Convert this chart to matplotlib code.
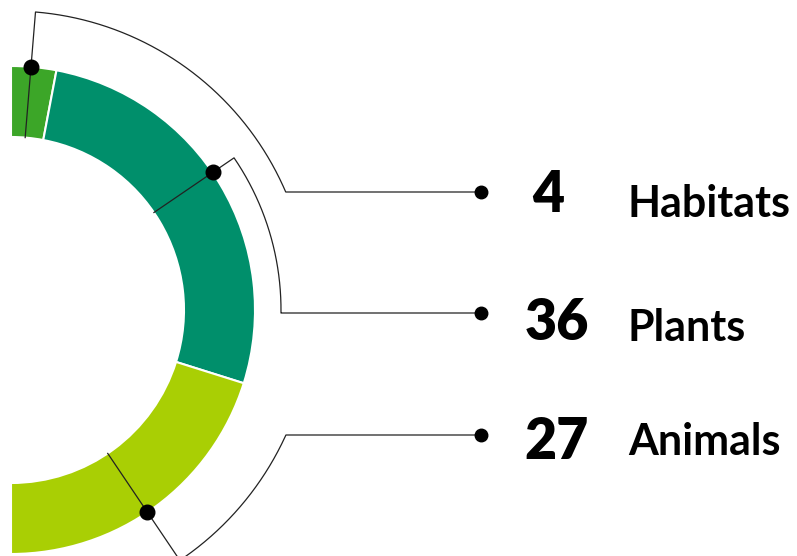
import numpy as np
import matplotlib
matplotlib.use("Agg")
import matplotlib.pyplot as plt

# data
labels = ["Habitats", "Plants", "Animals"]
counts = [4, 36, 27]
colors = ["#3ca628", "#008f6b", "#a9cf04"]

# layout (pixel-like units, y pointing up)
W, H = 797, 556
cx, cy = 11, 246
r_out, ring = 244, 71
leader_angles = [85.3, 34.3, -56.0]     # where each leader crosses the ring
leader_radius = [299, 270, 302]         # radius of each bracket arc
row_y = [364, 243, 121]                 # height of each horizontal leader
dot_x = 481
num_x = [548, 557, 557]
num_base = [344, 216, 97]
label_x = 628
label_base = [339, 215, 101]

plt.rcParams['font.family'] = ['Lato', 'DejaVu Sans']

fig = plt.figure(figsize=(W / 100, H / 100), dpi=100)
ax = fig.add_axes([0, 0, 1, 1])

# half donut: a hidden slice takes the left half
wedges, _ = ax.pie(counts + [sum(counts)], radius=r_out, center=(cx, cy),
                   startangle=90, counterclock=False,
                   colors=colors + ["white"],
                   wedgeprops=dict(width=ring, edgecolor="white", linewidth=1.5))
wedges[-1].set_visible(False)

r_in = r_out - ring
for i, lab in enumerate(labels):
    a = np.radians(leader_angles[i])
    rb, yl = leader_radius[i], row_y[i]
    a_end = np.arcsin((yl - cy) / rb)
    arc = np.linspace(a, a_end, 200)
    xs = np.concatenate([[cx + r_in * np.cos(a)], cx + rb * np.cos(arc), [dot_x]])
    ys = np.concatenate([[cy + r_in * np.sin(a)], cy + rb * np.sin(arc), [yl]])
    ax.plot(xs, ys, color="#222222", lw=0.9, zorder=3)
    ax.plot(cx + r_out * np.cos(a), cy + r_out * np.sin(a), "o", color="black",
            ms=10.5, zorder=4)
    ax.plot(dot_x, yl, "o", color="black", ms=9, zorder=4)
    ax.text(num_x[i], num_base[i], str(counts[i]), fontsize=40, fontweight="heavy",
            ha="center", va="baseline")
    ax.text(label_x, label_base[i], lab, fontsize=31, fontweight="bold",
            ha="left", va="baseline")

ax.set_xlim(0, W)
ax.set_ylim(0, H)
ax.set_aspect("equal")
ax.axis("off")

fig.savefig("out.png", dpi=100)
